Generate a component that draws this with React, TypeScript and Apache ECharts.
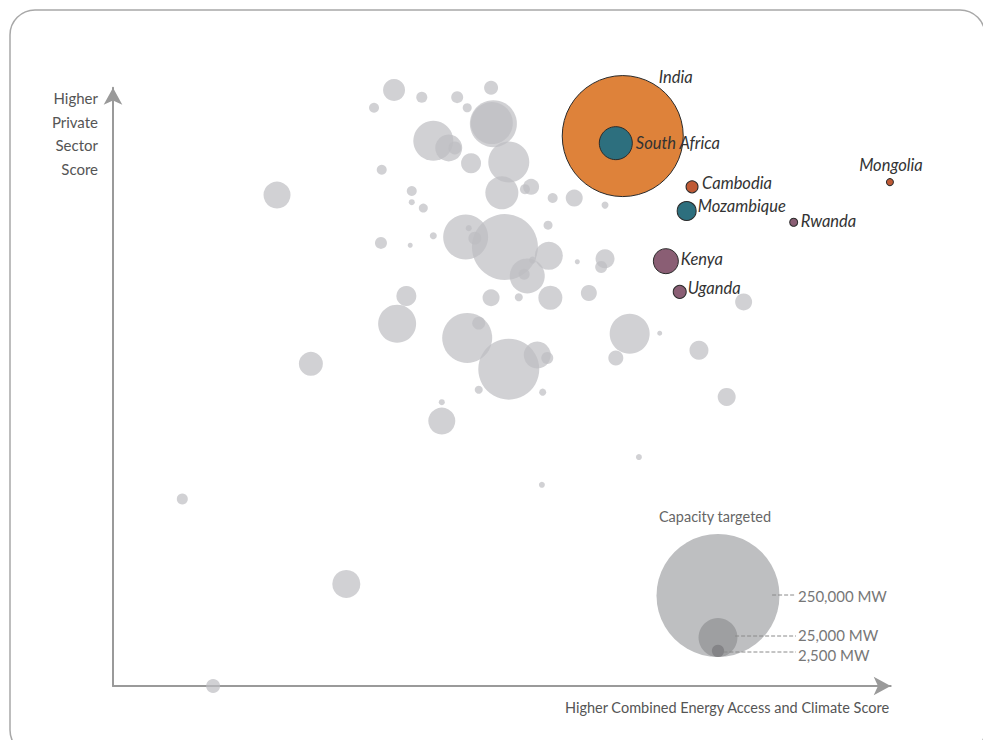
import React, { useEffect, useRef } from "react";
import * as echarts from "echarts";

// ---- data (scores, capacity targeted in MW) ----
const grayX = [36.5, 33.9, 40.1, 44.7, 46.0, 49.1, 49.4, 49.2, 41.6, 43.6, 44.4, 46.5, 51.4, 50.5, 54.3, 53.5, 57.1, 34.9, 21.3, 38.8, 38.8, 40.3, 34.8, 38.6, 41.6, 45.8, 46.2, 47.0, 50.9, 56.5, 56.6, 53.8, 53.4, 54.5, 60.3, 49.1, 52.7, 56.8, 38.1, 36.9, 25.7, 46.0, 47.5, 51.4, 55.1, 56.4, 47.5, 55.8, 42.7, 42.7, 9.0, 30.3, 13.0, 55.7, 68.3, 59.9, 63.9, 63.9, 63.4, 61.8, 67.1, 71.0, 65.3, 76.1, 81.9, 79.7];
const grayY = [101.0, 98.0, 99.8, 99.8, 98.0, 101.4, 95.3, 95.4, 92.4, 91.2, 91.2, 88.6, 88.8, 83.6, 84.6, 84.2, 82.7, 87.5, 83.2, 83.9, 82.0, 81.0, 75.1, 74.7, 76.3, 76.1, 77.6, 75.9, 74.4, 78.1, 72.9, 69.5, 69.8, 72.2, 71.9, 65.8, 65.9, 65.8, 66.1, 61.4, 54.6, 59.0, 61.5, 53.7, 56.1, 55.6, 50.2, 49.8, 48.1, 44.9, 31.7, 17.3, 0.0, 34.1, 38.8, 82.7, 81.5, 72.4, 71.0, 66.6, 59.7, 59.8, 55.6, 56.9, 65.1, 49.0];
const grayCap = [8000, 1650, 2000, 2380, 1340, 3240, 36500, 29150, 26440, 12050, 2790, 6610, 27780, 18000, 4230, 1650, 1650, 1650, 12050, 1650, 595, 1340, 2380, 413, 810, 33460, 595, 2790, 71980, 1340, 12950, 20240, 2000, 810, 413, 4775, 1058, 9520, 6610, 23860, 9520, 41310, 2790, 61490, 12050, 2380, 1058, 810, 595, 12050, 2000, 12950, 3240, 595, 595, 4775, 810, 5965, 2380, 4230, 26440, 413, 3720, 5965, 4775, 5355];

const countries = ["India", "South Africa", "Cambodia", "Mozambique", "Rwanda", "Mongolia", "Kenya", "Uganda"];
const countryX = [66.2, 65.3, 75.2, 74.5, 88.4, 100.9, 71.8, 73.6];
const countryY = [93.2, 92.0, 84.6, 80.5, 78.6, 85.4, 72.0, 66.8];
const countryCap = [242000, 18000, 2380, 5965, 1058, 810, 10330, 2790];

const legendCaps = [250000, 25000, 2500];
const legendLabels = ["250,000 MW", "25,000 MW", "2,500 MW"];

// ---- styles ----
const countryColors: Record<string, string> = {
  India: "#DE823A",
  "South Africa": "#2D6F7E",
  Cambodia: "#BF5A35",
  Mozambique: "#2D6F7E",
  Rwanda: "#8A5E74",
  Mongolia: "#BF5A35",
  Kenya: "#8A5E74",
  Uganda: "#8A5E74",
};
const labelLayout: Record<string, { align: string; offset: number[] }> = {
  India: { align: "left", offset: [36, -59] },
  "South Africa": { align: "left", offset: [20, 0] },
  Cambodia: { align: "left", offset: [10, -4] },
  Mozambique: { align: "left", offset: [11, -5] },
  Rwanda: { align: "left", offset: [7, -1] },
  Mongolia: { align: "center", offset: [1, -17] },
  Kenya: { align: "left", offset: [15, -2] },
  Uganda: { align: "left", offset: [8, -4] },
};

const MAX_D = 123; // diameter of a 250,000 MW bubble
const sizeOf = (cap: number) => MAX_D * Math.sqrt(cap / 250000);
const FONT = "Lato";

export default function App() {
  const ref = useRef<HTMLDivElement>(null);
  useEffect(() => {
    if (!ref.current) return;
    const chart = echarts.init(ref.current, undefined, { renderer: "svg" });

    const legendCx = 718;
    const legendBottom = 657;
    const legendGraphics: any[] = [];
    const lineY = [595, 636, 652];
    const textY = [596, 635, 655];
    legendCaps.forEach((cap, i) => {
      const r = sizeOf(cap) / 2;
      legendGraphics.push({
        type: "circle",
        shape: { cx: legendCx, cy: legendBottom - r, r },
        style: { fill: ["#BEBFC1", "#9E9FA1", "#848487"][i] },
        z: 10 + i,
      });
    });
    legendCaps.forEach((cap, i) => {
      const r = sizeOf(cap) / 2;
      legendGraphics.push({
        type: "line",
        shape: { x1: legendCx + r * 0.88, y1: lineY[i], x2: 796, y2: lineY[i] },
        style: { stroke: "#8a8a8a", lineWidth: 1, lineDash: [4, 2] },
        z: 20,
      });
      legendGraphics.push({
        type: "text",
        x: 798,
        y: textY[i],
        style: {
          text: legendLabels[i],
          fill: "#777",
          font: `15px ${FONT}`,
          textAlign: "left",
          textVerticalAlign: "middle",
        },
        z: 20,
      });
    });

    const axisCommon = {
      type: "value",
      min: 0,
      axisLine: {
        show: true,
        symbol: ["none", "arrow"],
        symbolSize: [14, 17],
        lineStyle: { color: "#9a9a9a", width: 2 },
      },
      axisTick: { show: false },
      axisLabel: { show: false },
      splitLine: { show: false },
    };

    const option: any = {
      animation: false,
      grid: { left: 113, right: 92.3, top: 87.7, bottom: 54 },
      xAxis: { ...axisCommon, max: 101 },
      yAxis: { ...axisCommon, max: 101.4 },
      graphic: [
        {
          type: "rect",
          shape: { x: 10, y: 10, width: 975, height: 745, r: 25 },
          style: { fill: "none", stroke: "#a8a8a8", lineWidth: 1.5 },
          z: -10,
        },
        {
          type: "text",
          x: 98,
          y: 86,
          style: {
            text: "Higher\nPrivate\nSector\nScore",
            fill: "#555",
            font: `15px ${FONT}`,
            lineHeight: 23.7,
            textAlign: "right",
            textVerticalAlign: "top",
          },
        },
        {
          type: "text",
          x: 727,
          y: 707,
          style: {
            text: "Higher Combined Energy Access and Climate Score",
            fill: "#555",
            font: `14.5px ${FONT}`,
            textAlign: "center",
            textVerticalAlign: "middle",
          },
        },
        {
          type: "text",
          x: 715,
          y: 516,
          style: {
            text: "Capacity targeted",
            fill: "#666",
            font: `14.5px ${FONT}`,
            textAlign: "center",
            textVerticalAlign: "middle",
          },
        },
        ...legendGraphics,
      ],
      series: [
        {
          type: "scatter",
          clip: false,
          silent: true,
          data: grayX.map((x, i) => [x, grayY[i], grayCap[i]]),
          symbolSize: (v: number[]) => sizeOf(v[2]),
          itemStyle: { color: "#BDBEC2", opacity: 0.7 },
          z: 2,
        },
        {
          type: "scatter",
          clip: false,
          silent: true,
          data: countries.map((name, i) => ({
            name,
            value: [countryX[i], countryY[i], countryCap[i]],
            itemStyle: {
              color: countryColors[name],
              borderColor: "#2a2a2a",
              borderWidth: 1,
              opacity: 1,
            },
            label: {
              show: true,
              position: "inside",
              formatter: name,
              align: labelLayout[name].align,
              verticalAlign: "middle",
              offset: labelLayout[name].offset,
              color: "#333",
              fontFamily: FONT,
              fontStyle: "italic",
              fontSize: 16.5,
            },
          })),
          symbolSize: (v: number[]) => sizeOf(v[2]),
          z: 3,
        },
      ],
    };
    chart.setOption(option);
    return () => chart.dispose();
  }, []);
  return (
    <div
      ref={ref}
      style={{ position: "fixed", left: 0, top: 0, width: 983, height: 740, background: "#fff" }}
    />
  );
}
